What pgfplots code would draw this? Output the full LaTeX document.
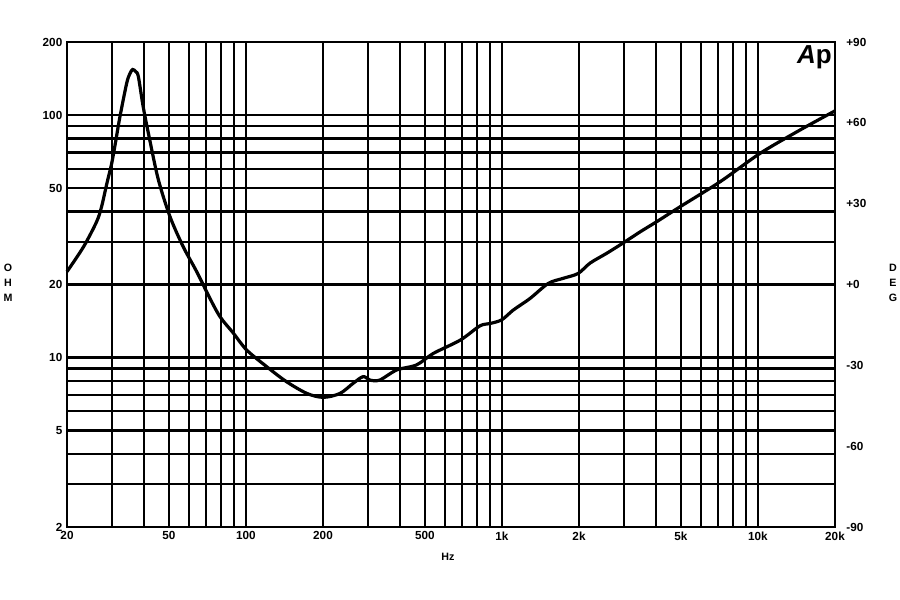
\documentclass[border=0pt]{standalone}
\usepackage{fontspec}
\setmainfont{Liberation Sans}
\usepackage{pgfplots}
\pgfplotsset{compat=1.18}
\begin{document}
\begin{tikzpicture}[x=0.75pt,y=0.75pt]
\useasboundingbox (-67,-73) rectangle (833,527);
\begin{axis}[
  at={(0,0)}, anchor=south west,
  scale only axis, width=576pt, height=363.75pt,
  xmode=log, ymode=log,
  xmin=20, xmax=20000, ymin=2, ymax=200,
  xtick={20,50,100,200,500,1000,2000,5000,10000,20000},
  xticklabels={20,50,100,200,500,1k,2k,5k,10k,20k},
  minor xtick={30,40,60,70,80,90,300,400,600,700,800,900,3000,4000,6000,7000,8000,9000},
  ytick={2,5,10,20,50,100,200},
  yticklabels={2,5,10,20,50,100,200},
  minor ytick={3,4,6,7,8,9,30,40,60,70,80,90},
  grid=both,
  major grid style={black, line width=1.65pt},
  minor grid style={black, line width=1.65pt},
  axis line style={black, line width=1.65pt},
  tick style={draw=none},
  ticklabel style={font=\fontsize{8.8}{10}\selectfont\bfseries},
  clip=false,
]
\addplot[black, line width=2.4pt, smooth, tension=0.5] coordinates {
(20,22.6) (23.2,28.6) (26.1,36.3) (27.3,41.9) (28.6,52) (29.9,63.2) (31.0,78)
(32.2,98.4) (34.2,135) (35.2,148) (36.1,154) (37.1,151) (38.0,144) (39.7,108)
(42.1,78.9) (45.5,54) (50.5,38.1) (56.9,28.6) (64.2,22.6) (72.4,17.5)
(79.3,14.7) (89.3,12.6) (100.6,10.74) (120.6,9.16)
(144,7.95) (173,7.11) (200.6,6.85) (233,7.11) (262,7.82) (287,8.34) (305,8.07)
(333,8.07) (388,8.88) (464,9.32) (540,10.4) (688,11.8) (820,13.5) (897,13.8)
(998,14.3) (1108,15.7) (1286,17.5) (1516,20.2) (1733,21.2) (1984,22.2)
(2208,24.5) (2566,26.9) (2980,29.7) (3470,33.0) (4020,36.3) (4975,41.9)
(7125,53.1) (10200,69.5) (14600,86.7) (20000,104)
};
\node[font=\fontsize{8}{11.25}\selectfont\bfseries, align=center] at (rel axis cs:-0.0768,0.503) {O\\H\\M};
\node[font=\fontsize{8}{11.25}\selectfont\bfseries, align=center] at (rel axis cs:1.0755,0.503) {D\\E\\G};
\node[font=\fontsize{8}{10}\selectfont\bfseries] at (rel axis cs:0.496,-0.0619) {Hz};
\node[font=\fontsize{19.5}{20}\selectfont\bfseries, anchor=north east, inner sep=0pt] at (rel axis cs:0.996,0.9938) {{\itshape A}p};
\end{axis}
\begin{axis}[
  at={(0,0)}, anchor=south west,
  scale only axis, width=576pt, height=363.75pt,
  xmin=0, xmax=1, ymin=-90, ymax=90,
  axis y line*=right, axis x line=none,
  ytick={-90,-60,-30,0,30,60,90},
  yticklabels={-90,-60,-30,+0,+30,+60,+90},
  tick style={draw=none},
  axis line style={draw=none},
  yticklabel style={font=\fontsize{8.8}{10}\selectfont\bfseries, xshift=5pt},
]
\addplot[draw=none] coordinates {(0,0)};
\end{axis}
\end{tikzpicture}
\end{document}
